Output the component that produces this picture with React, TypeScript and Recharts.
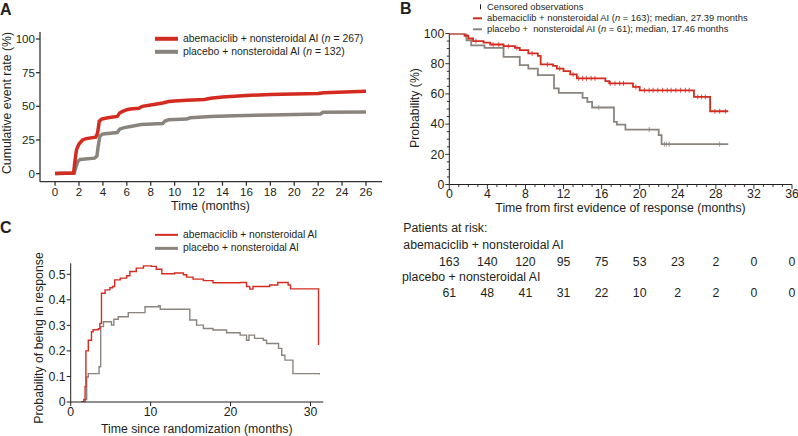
import React from "react";
import { LineChart, ComposedChart, Line, Scatter, XAxis, YAxis } from "recharts";

const RED = "#d42b20";
const GRAY = "#8a847f";
const INK = "#231f20";
const FONT = "'Liberation Sans', Arial, Helvetica, sans-serif";

// Panel A: cumulative event rate (%)
const aRedMonths = [0, 1.55, 1.7, 1.8, 2.0, 2.3, 2.6, 3.4, 3.55, 3.7, 3.9, 4.4, 5.2, 5.4, 5.6, 6.0, 6.3, 7.0, 7.3, 8.0, 9.0, 9.5, 10, 11, 12.5, 13, 14, 16, 18, 22, 22.5, 26];
const aRedRate = [0, 0.5, 12, 18, 22, 25, 26, 27, 30, 39, 40.5, 41.5, 42.5, 45, 46, 47.5, 48, 48.5, 50, 51, 52.5, 53.5, 54, 54.5, 55, 56, 57, 58, 58.8, 59.5, 60, 61.2];
const aGrayMonths = [0, 1.6, 1.75, 1.9, 2.1, 3.3, 3.5, 3.6, 3.75, 4.0, 5.2, 5.4, 5.7, 6.3, 7.2, 9.0, 9.2, 9.5, 11, 11.3, 13, 15, 18, 22.2, 22.4, 26];
const aGrayRate = [0, 0.5, 5, 9, 10.5, 11.5, 13, 20, 28, 29.5, 30.5, 33, 34, 35, 36.5, 37.2, 39, 40, 40.5, 41.5, 42.5, 43, 43.5, 44.3, 45.5, 45.7];
const aXTicks = [0, 2, 4, 6, 8, 10, 12, 14, 16, 18, 20, 22, 24, 26];
const aYTicks = [0, 25, 50, 75, 100];

// Panel B: probability of duration of response (%)
const bRedMonths = [0, 1.6, 2.0, 2.5, 3.6, 4.3, 5.7, 6.9, 7.4, 8.3, 9.3, 9.6, 10.9, 11.3, 12.0, 12.7, 13.4, 16.4, 16.8, 19.3, 20.0, 25.7, 27.4, 29.3];
const bRedProb = [100, 98.5, 96.7, 95, 94, 92.7, 91.6, 90.5, 89, 86.8, 85.2, 79.5, 78.6, 76.8, 75.1, 72.9, 70.3, 68.5, 67, 64.6, 62.4, 58, 48.5, 48.5];
const bGrayMonths = [0, 1.8, 2.3, 3.7, 5.7, 7.4, 8.3, 9.3, 11.0, 11.5, 14.0, 14.5, 15.0, 17.3, 17.6, 18.5, 22.0, 22.3, 29.3];
const bGrayProb = [100, 95.5, 92.2, 90.5, 84.5, 79, 76.8, 72.4, 63.6, 60.7, 57.4, 54.7, 51, 41.5, 39.7, 36.4, 32.7, 26.7, 26.7];
const bRedCensored = [2.8, 4.6, 5.2, 6.2, 7.1, 8.7, 10.3, 11.6, 13.0, 13.6, 14.0, 14.4, 14.9, 15.3, 16.9, 17.4, 17.9, 18.3, 19.6, 20.5, 21.0, 21.4, 21.9, 22.4, 22.9, 23.3, 23.8, 24.3, 24.8, 25.2, 26.1, 26.5, 26.9, 27.9, 28.4, 29.0];
const bGrayCensored = [15.7, 21.0, 22.6, 22.8, 23.1, 28.4];
const riskMonths = [0, 4, 8, 12, 16, 20, 24, 28, 32, 36];
const riskAbema = [163, 140, 120, 95, 75, 53, 23, 2, 0, 0];
const riskPlacebo = [61, 48, 41, 31, 22, 10, 2, 2, 0, 0];

// Panel C: probability of being in response
const cRedMonths = [1.3, 1.65, 1.8, 1.9, 2.2, 2.6, 2.8, 3.45, 3.65, 3.85, 4.3, 4.9, 5.25, 5.5, 6.2, 7.0, 7.4, 8.2, 9.1, 10.1, 10.7, 11.4, 13.0, 14.1, 14.5, 15.3, 16.6, 17.8, 21.2, 22.0, 22.4, 22.8, 24.9, 25.9, 27.2, 27.5, 31.0];
const cRedProb = [0, 0.01, 0.06, 0.2, 0.242, 0.275, 0.283, 0.287, 0.308, 0.426, 0.439, 0.447, 0.452, 0.478, 0.485, 0.494, 0.511, 0.524, 0.533, 0.531, 0.52, 0.502, 0.505, 0.498, 0.489, 0.481, 0.475, 0.467, 0.468, 0.452, 0.442, 0.452, 0.458, 0.468, 0.458, 0.443, 0.223];
const cGrayMonths = [1.3, 1.8, 2.0, 2.2, 3.55, 3.75, 4.1, 5.1, 5.4, 5.95, 7.2, 9.3, 11.0, 11.2, 14.9, 15.75, 16.6, 17.8, 19.5, 21.2, 22.0, 22.3, 23.0, 24.1, 24.5, 26.0, 26.4, 26.8, 27.8, 31.1];
const cGrayProb = [0, 0.01, 0.098, 0.111, 0.138, 0.295, 0.314, 0.301, 0.324, 0.334, 0.35, 0.373, 0.377, 0.363, 0.321, 0.301, 0.288, 0.282, 0.271, 0.262, 0.242, 0.262, 0.249, 0.242, 0.229, 0.21, 0.183, 0.164, 0.111, 0.108];
const cXTicks = [0, 10, 20, 30];
const cYTicks = [0, 0.1, 0.2, 0.3, 0.4, 0.5];

const toPoints = (ts: number[], vs: number[]) => ts.map((t, i) => ({ t, v: vs[i] }));

// value of a step curve at time t
const stepValue = (ts: number[], vs: number[], t: number) => {
  let v = vs[0];
  ts.forEach((x, i) => {
    if (x <= t) v = vs[i];
  });
  return v;
};

const B_LEFT = 449.3;
const B_RIGHT = 792;
const B_MAX = 36;
const bX = (t: number) => B_LEFT + (t / B_MAX) * (B_RIGHT - B_LEFT);

const txt: React.CSSProperties = { position: "absolute", whiteSpace: "pre", color: INK, lineHeight: 1 };

const Centered = ({ x, y, size, rotate, children, bold }: any) => (
  <div
    style={{
      ...txt,
      left: x,
      top: y,
      fontSize: size,
      fontWeight: bold ? 700 : 400,
      transform: `translate(-50%, -50%)${rotate ? " rotate(-90deg)" : ""}`,
    }}
  >
    {children}
  </div>
);

const LeftText = ({ x, y, size, children, bold }: any) => (
  <div style={{ ...txt, left: x, top: y, fontSize: size, fontWeight: bold ? 700 : 400, transform: "translateY(-50%)" }}>
    {children}
  </div>
);

const LegendRow = ({ x, y, color, len, thick, gap, size, children }: any) => (
  <div style={{ position: "absolute", left: x, top: y, transform: "translateY(-50%)", display: "flex", alignItems: "center" }}>
    <span style={{ display: "inline-block", width: len, height: thick, background: color }} />
    <span style={{ marginLeft: gap, fontSize: size, color: INK, whiteSpace: "pre", lineHeight: 1 }}>{children}</span>
  </div>
);

const BXTick = ({ x, y, payload }: any) => {
  const major = payload.value % 4 === 0;
  return (
    <g>
      <line x1={x} x2={x} y1={y} y2={y + (major ? 4.5 : 2.5)} stroke={INK} strokeWidth={0.9} />
      {major && (
        <text x={x} y={y + 5} dy="0.71em" textAnchor="middle" fontSize={12.3} fill={INK} fontFamily={FONT}>
          {payload.value}
        </text>
      )}
    </g>
  );
};

const BYTick = ({ x, y, payload }: any) => {
  const major = payload.value % 20 === 0;
  return (
    <g>
      <line x1={x} x2={x - (major ? 4 : 2.5)} y1={y} y2={y} stroke={INK} strokeWidth={0.9} />
      {major && (
        <text x={x - 5} y={y} dy="0.355em" textAnchor="end" fontSize={12.3} fill={INK} fontFamily={FONT}>
          {payload.value}
        </text>
      )}
    </g>
  );
};

const CensorMark = (color: string) => (p: any) =>
  <line x1={p.cx} x2={p.cx} y1={p.cy - 2.5} y2={p.cy + 2.5} stroke={color} strokeWidth={0.8} />;

export default function App() {
  const bMinorX = Array.from({ length: B_MAX + 1 }, (_, i) => i);
  const bMinorY = Array.from({ length: 21 }, (_, i) => i * 5);
  const tickStyle = { fontSize: 11.6, fill: INK, fontFamily: FONT };

  return (
    <div style={{ position: "absolute", left: 0, top: 0, width: 798, height: 436, background: "#fff", fontFamily: FONT, overflow: "hidden" }}>
      {/* Panel A */}
      <LineChart width={400} height={215} margin={{ top: 32, right: 18, bottom: 5, left: 0 }} style={{ position: "absolute", left: 0, top: 0 }}>
        <XAxis
          type="number"
          dataKey="t"
          domain={[-1.26, 27.34]}
          allowDataOverflow
          ticks={aXTicks}
          interval={0}
          height={28.3}
          tickSize={4}
          tickMargin={2}
          stroke="#333"
          strokeWidth={1.3}
          tick={tickStyle}
        />
        <YAxis
          type="number"
          domain={[-6, 105.2]}
          allowDataOverflow
          ticks={aYTicks}
          interval={0}
          width={40}
          tickSize={4}
          tickMargin={1}
          stroke="#333"
          strokeWidth={1.3}
          tick={tickStyle}
        />
        <Line data={toPoints(aGrayMonths, aGrayRate)} dataKey="v" type="linear" stroke={GRAY} strokeWidth={3.5} dot={false} isAnimationActive={false} />
        <Line data={toPoints(aRedMonths, aRedRate)} dataKey="v" type="linear" stroke={RED} strokeWidth={3.5} dot={false} isAnimationActive={false} />
      </LineChart>

      {/* Panel B */}
      <ComposedChart width={398} height={215} margin={{ top: 33.5, right: 6, bottom: 0, left: 0 }} style={{ position: "absolute", left: 400, top: 0 }}>
        <XAxis
          type="number"
          dataKey="t"
          domain={[0, B_MAX]}
          allowDataOverflow
          ticks={bMinorX}
          interval={0}
          height={30.5}
          tickSize={0}
          tickMargin={0}
          tickLine={false}
          stroke={INK}
          tick={<BXTick />}
        />
        <YAxis
          type="number"
          dataKey="v"
          domain={[0, 100]}
          allowDataOverflow
          ticks={bMinorY}
          interval={0}
          width={49.3}
          tickSize={0}
          tickMargin={0}
          tickLine={false}
          stroke={INK}
          tick={<BYTick />}
        />
        <Line data={toPoints(bGrayMonths, bGrayProb)} dataKey="v" type="stepAfter" stroke={GRAY} strokeWidth={1.8} dot={false} isAnimationActive={false} />
        <Line data={toPoints(bRedMonths, bRedProb)} dataKey="v" type="stepAfter" stroke={RED} strokeWidth={1.8} dot={false} isAnimationActive={false} />
        <Scatter
          data={bGrayCensored.map((t) => ({ t, v: stepValue(bGrayMonths, bGrayProb, t) }))}
          dataKey="v"
          shape={CensorMark(GRAY)}
          isAnimationActive={false}
        />
        <Scatter
          data={bRedCensored.map((t) => ({ t, v: stepValue(bRedMonths, bRedProb, t) }))}
          dataKey="v"
          shape={CensorMark(RED)}
          isAnimationActive={false}
        />
      </ComposedChart>

      {/* Panel C */}
      <LineChart width={340} height={186} margin={{ top: 13.3, right: 16.7, bottom: 0, left: 0 }} style={{ position: "absolute", left: 0, top: 250 }}>
        <XAxis
          type="number"
          dataKey="t"
          domain={[0, 31.6]}
          allowDataOverflow
          ticks={cXTicks}
          interval={0}
          height={34}
          tickSize={4}
          tickMargin={1}
          stroke={INK}
          tick={{ ...tickStyle, fontSize: 12.3 }}
        />
        <YAxis
          type="number"
          domain={[0, 0.543]}
          allowDataOverflow
          ticks={cYTicks}
          interval={0}
          width={70.7}
          tickSize={4}
          tickMargin={1}
          stroke={INK}
          tick={{ ...tickStyle, fontSize: 12.3 }}
          tickFormatter={(v: number) => (v === 0 ? "0" : v.toFixed(1))}
        />
        <Line data={toPoints(cGrayMonths, cGrayProb)} dataKey="v" type="stepAfter" stroke={GRAY} strokeWidth={1.4} dot={false} isAnimationActive={false} />
        <Line data={toPoints(cRedMonths, cRedProb)} dataKey="v" type="stepAfter" stroke={RED} strokeWidth={1.4} dot={false} isAnimationActive={false} />
      </LineChart>

      {/* panel letters */}
      <LeftText x={0} y={9.5} size={16} bold>A</LeftText>
      <LeftText x={400} y={8.5} size={16} bold>B</LeftText>
      <LeftText x={0} y={227.5} size={16} bold>C</LeftText>

      {/* A titles and legend */}
      <Centered x={7} y={103} size={12.3} rotate>Cumulative event rate (%)</Centered>
      <Centered x={210.5} y={205.5} size={12.3}>Time (months)</Centered>
      <LegendRow x={155} y={39} color={RED} len={23} thick={3.5} gap={5} size={10.4}>
        abemaciclib + nonsteroidal AI (<i>n</i> = 267)
      </LegendRow>
      <LegendRow x={155} y={51.7} color={GRAY} len={23} thick={3.5} gap={5} size={10.4}>
        placebo + nonsteroidal AI (<i>n</i> = 132)
      </LegendRow>

      {/* B titles and legend */}
      <Centered x={415} y={107.5} size={12.3} rotate>Probability (%)</Centered>
      <Centered x={620.5} y={208.3} size={12.3}>Time from first evidence of response (months)</Centered>
      <LegendRow x={480} y={6.7} color={INK} len={0.8} thick={5} gap={6.2} size={9.4}>
        Censored observations
      </LegendRow>
      <LegendRow x={473} y={18.3} color={RED} len={9} thick={1.8} gap={5} size={9.4}>
        abemaciclib + nonsteroidal AI (<i>n</i> = 163); median, 27.39 months
      </LegendRow>
      <LegendRow x={473} y={29} color={GRAY} len={9} thick={1.8} gap={5} size={9.4}>
        placebo +  nonsteroidal AI (<i>n</i> = 61); median, 17.46 months
      </LegendRow>

      {/* patients at risk */}
      <LeftText x={403.3} y={228.3} size={12.3}>Patients at risk:</LeftText>
      <LeftText x={403.3} y={245} size={12.3}>abemaciclib + nonsteroidal AI</LeftText>
      {riskMonths.map((m, i) => (
        <Centered key={"a" + m} x={bX(m)} y={261.7} size={12.3}>{riskAbema[i]}</Centered>
      ))}
      <LeftText x={402} y={276.7} size={12.3}>placebo + nonsteroidal AI</LeftText>
      {riskMonths.map((m, i) => (
        <Centered key={"p" + m} x={bX(m)} y={293.3} size={12.3}>{riskPlacebo[i]}</Centered>
      ))}

      {/* C titles and legend */}
      <Centered x={39.3} y={338} size={12.3} rotate>Probability of being in response</Centered>
      <Centered x={196.7} y={429.3} size={12.3}>Time since randomization (months)</Centered>
      <LegendRow x={155} y={235} color={RED} len={23} thick={2.4} gap={5} size={10.3}>
        abemaciclib + nonsteroidal AI
      </LegendRow>
      <LegendRow x={155} y={248.3} color={GRAY} len={23} thick={2.4} gap={5} size={10.3}>
        placebo + nonsteroidal AI
      </LegendRow>
    </div>
  );
}
